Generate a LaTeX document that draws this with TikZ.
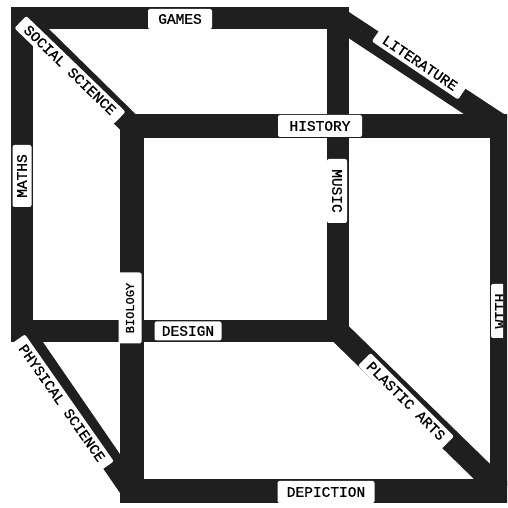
\documentclass[tikz,border=0pt]{standalone}
\usepackage{fontspec}
\newfontfamily\labfont[FakeBold=1]{Liberation Mono}
\definecolor{barc}{gray}{0.12}
\begin{document}
\begin{tikzpicture}[x=1pt,y=1pt,
  backbar/.style={draw=barc, line width=22pt, line join=miter},
  frontbar/.style={draw=barc, line width=24pt, line join=miter},
  diagbar/.style={draw=barc, line width=22pt, line cap=butt},
  lab/.style={fill=white, rounded corners=2pt, inner sep=0pt,
    font=\labfont\fontsize{14.5}{14.5}\selectfont}]
\useasboundingbox (0,0) rectangle (507,508);
\clip (0,0) rectangle (507,508);
% corners
\coordinate (bTL) at (22,490);
\coordinate (bTR) at (338,490);
\coordinate (bBR) at (338,177);
\coordinate (bBL) at (22,177);
\coordinate (fTL) at (132,382);
\coordinate (fTR) at (502,382);
\coordinate (fBR) at (502,17);
\coordinate (fBL) at (132,17);
% bars
\draw[backbar] (bTL) -- (bTR) -- (bBR) -- (bBL) -- cycle;
\draw[frontbar] (fTL) -- (fTR) -- (fBR) -- (fBL) -- cycle;
\draw[diagbar] (bTL) -- (fTL);
\draw[diagbar] (bTR) -- (fTR);
\draw[diagbar] (bBR) -- (fBR);
\draw[diagbar] (bBL) -- (fBL);
% labels
\node[lab, minimum width=64pt, minimum height=20pt] (games) at (180,489) {GAMES};
\node[lab, minimum width=138pt, minimum height=17pt, rotate=-44] (social) at (70,438) {SOCIAL SCIENCE};
\node[lab, minimum width=62pt, minimum height=19pt, rotate=90] (maths) at (22,332) {MATHS};
\node[lab, minimum width=84pt, minimum height=22pt] (history) at (320,382) {HISTORY};
\node[lab, minimum width=104pt, minimum height=18pt, rotate=-34] (literature) at (420,445) {LITERATURE};
\node[lab, minimum width=64pt, minimum height=20pt, rotate=-90] (music) at (337,317) {MUSIC};
\node[lab, minimum width=71pt, minimum height=23pt, rotate=90, font=\labfont\fontsize{12}{12}\selectfont] (biology) at (130,200) {BIOLOGY};
\node[lab, minimum width=67pt, minimum height=19pt] (design) at (188,177) {DESIGN};
\node[lab, minimum width=155pt, minimum height=18pt, rotate=-55] (physical) at (62,105) {PHYSICAL SCIENCE};
\node[lab, minimum width=118pt, minimum height=18pt, rotate=-45] (plastic) at (406,107) {PLASTIC ARTS};
\node[lab, minimum width=97pt, minimum height=22pt] (depiction) at (326,16) {DEPICTION};
\begin{scope}
\clip (485,160) rectangle (503,235);
\node[lab, minimum width=54pt, minimum height=18pt, rotate=90] (with) at (500,197) {WITH};
\end{scope}
\end{tikzpicture}
\end{document}
